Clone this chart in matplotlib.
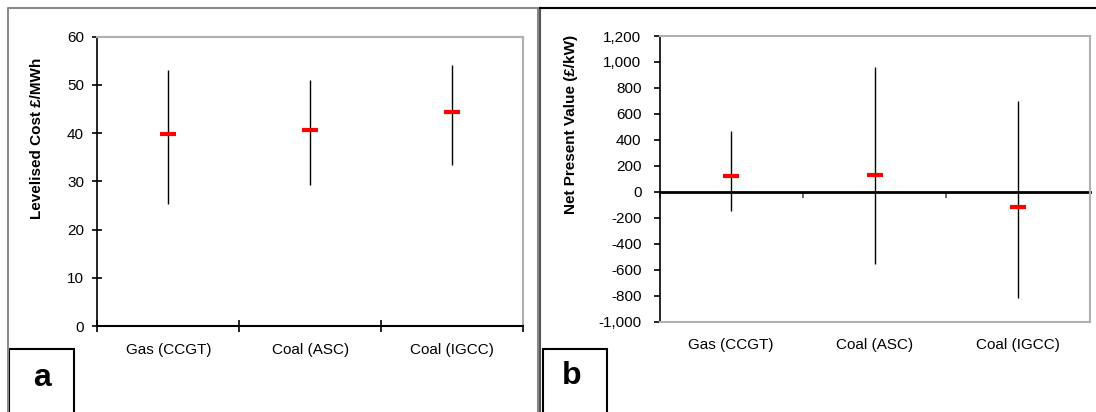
import matplotlib
matplotlib.use("Agg")
import matplotlib.pyplot as plt
from matplotlib.lines import Line2D
from matplotlib.patches import Rectangle
from matplotlib.ticker import FuncFormatter

plt.rcParams['font.family'] = ['Liberation Sans', 'DejaVu Sans']

# ---------------- data ----------------
categories = ["Gas (CCGT)", "Coal (ASC)", "Coal (IGCC)"]

cost_mid = [39.9, 40.7, 44.3]
cost_low = [25.2, 29.3, 33.3]
cost_high = [53.1, 51.0, 54.1]

npv_mid = [125, 133, -118]
npv_low = [-144, -554, -814]
npv_high = [467, 960, 700]

W, H = 1096, 412
fig = plt.figure(figsize=(W / 100, H / 100), dpi=100)
fig.patch.set_facecolor('white')


def fx(px):
    return px / W


def fy(py):
    return 1 - py / H


def axes_rect(l, t, r, b):
    return [fx(l), fy(b), fx(r) - fx(l), fy(t) - fy(b)]


def frame_line(xs, ys, color, lw):
    fig.add_artist(Line2D([fx(x) for x in xs], [fy(y) for y in ys],
                          transform=fig.transFigure, color=color, lw=lw,
                          solid_capstyle='projecting'))


def label_box(l, t, r, letter, tx, ty):
    fig.add_artist(Rectangle((fx(l), fy(H + 10)), fx(r) - fx(l), fy(t) - fy(H + 10),
                             transform=fig.transFigure, facecolor='white',
                             edgecolor='black', lw=1.5))
    fig.text(fx(tx), fy(ty), letter, fontsize=23, fontweight='bold',
             ha='center', va='center')


# outer frames
frame_line([7.5, 7.5, 537.5, 537.5], [H + 5, 7.5, 7.5, H + 5], '#8a8a8a', 1.5)
frame_line([540, 540], [H + 5, 7.5], '#555555', 1.5)
frame_line([540, W + 5], [7.5, 7.5], 'black', 1.5)

x = list(range(len(categories)))
bounds = [i - 0.5 for i in range(len(categories) + 1)]


def style(ax):
    ax.set_xlim(-0.5, len(categories) - 0.5)
    for s in ['top', 'right']:
        ax.spines[s].set_color('#b0b0b0')
        ax.spines[s].set_linewidth(1.5)
    ax.spines['left'].set_color('black')
    ax.spines['left'].set_linewidth(1.2)
    ax.set_xticks(x)
    ax.set_xticklabels(categories)
    ax.tick_params(axis='x', length=0, pad=12, labelsize=11)
    ax.tick_params(axis='y', labelsize=11, width=1.2)


# ---------------- panel a ----------------
ax1 = fig.add_axes(axes_rect(97.3, 36.7, 523, 326))
style(ax1)
ax1.set_ylim(0, 60)
ax1.set_yticks(range(0, 61, 10))
ax1.spines['bottom'].set_color('black')
ax1.spines['bottom'].set_linewidth(1.5)
ax1.tick_params(axis='y', direction='inout', length=7, pad=6)
ax1.set_xticks(bounds, minor=True)
ax1.tick_params(axis='x', which='minor', direction='inout', length=8, width=1.2)
ax1.vlines(x, cost_low, cost_high, color='black', lw=1)
ax1.plot(x, cost_mid, ls='none', marker='_', ms=12, mew=3, color='red')
fig.text(fx(37), fy(138), 'Levelised Cost £/MWh', rotation=90, fontsize=11,
         fontweight='bold', ha='center', va='center')

# ---------------- panel b ----------------
ax2 = fig.add_axes(axes_rect(659.5, 36, 1089.5, 321.7))
style(ax2)
ax2.set_ylim(-1000, 1200)
ax2.set_yticks(range(-1000, 1201, 200))
ax2.yaxis.set_major_formatter(FuncFormatter(lambda v, p: '{:,.0f}'.format(v)))
ax2.spines['bottom'].set_color('#b0b0b0')
ax2.spines['bottom'].set_linewidth(1.5)
ax2.tick_params(axis='y', direction='out', length=4, pad=9)
zero_frac = (0 - ax2.get_ylim()[0]) / (ax2.get_ylim()[1] - ax2.get_ylim()[0])
sec = ax2.secondary_xaxis(zero_frac)
sec.spines['bottom'].set_linewidth(2)
sec.spines['bottom'].set_color('black')
sec.set_xticks(bounds)
sec.set_xticklabels([])
sec.tick_params(axis='x', direction='out', length=4, width=1.2, color='#555555')
ax2.vlines(x, npv_low, npv_high, color='black', lw=1)
ax2.plot(x, npv_mid, ls='none', marker='_', ms=12, mew=3, color='red')
fig.text(fx(571), fy(124), 'Net Present Value (£/kW)', rotation=90, fontsize=11,
         fontweight='bold', ha='center', va='center')

# panel letters
label_box(9, 349, 74, 'a', 41.5, 378)
label_box(542.5, 349, 607, 'b', 572, 376)

fig.savefig('out.png', dpi=100)
